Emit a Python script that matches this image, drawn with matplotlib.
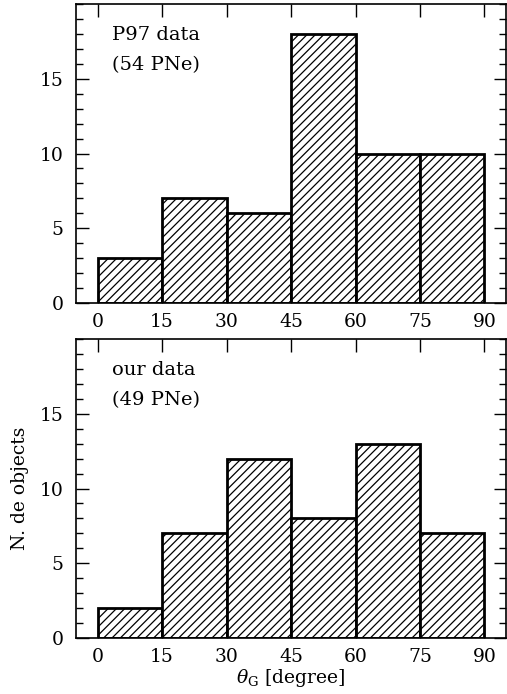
import numpy as np
import matplotlib
matplotlib.use("Agg")
import matplotlib.pyplot as plt
from matplotlib.ticker import MultipleLocator

# data
bin_edges = [0, 15, 30, 45, 60, 75]
p97_counts = [3, 7, 6, 18, 10, 10]
our_counts = [2, 7, 12, 8, 13, 7]
labels = [("P97 data", "(54 PNe)"), ("our data", "(49 PNe)")]
xticks = [0, 15, 30, 45, 60, 75, 90]

plt.rcParams["font.family"] = ["DejaVu Serif"]
plt.rcParams["mathtext.fontset"] = "dejavuserif"
plt.rcParams["hatch.linewidth"] = 0.9

fig = plt.figure(figsize=(5.07, 6.94), dpi=100)
ax1 = fig.add_axes([0.150, 0.5634, 0.848, 0.4308])
ax2 = fig.add_axes([0.150, 0.0807, 0.848, 0.4308])

for ax, counts, (l1, l2) in zip([ax1, ax2], [p97_counts, our_counts], labels):
    ax.bar(bin_edges, counts, width=15, align="edge", facecolor="white",
           edgecolor="black", linewidth=2.0, hatch="////")
    ax.set_xlim(-5, 95)
    ax.set_ylim(0, 20)
    ax.set_xticks(xticks)
    ax.set_yticks([0, 5, 10, 15])
    ax.yaxis.set_minor_locator(MultipleLocator(1))
    ax.tick_params(which="both", direction="in", top=True, right=True,
                   labelsize=13.5)
    ax.tick_params(which="major", length=9, width=1.0)
    ax.tick_params(which="minor", length=5, width=1.0)
    ax.tick_params(axis="x", pad=7)
    ax.tick_params(axis="y", pad=9)
    for s in ax.spines.values():
        s.set_linewidth(1.2)
    ax.text(3.3, 17.6, l1, fontsize=14, va="baseline")
    ax.text(3.3, 15.6, l2, fontsize=14, va="baseline")

ax2.set_xlabel(r"$\theta_{\rm G}$ [degree]", fontsize=13.5, labelpad=1)
ax2.set_ylabel("N. de objects", fontsize=13.5, labelpad=8)

fig.savefig("out.png", dpi=100)
